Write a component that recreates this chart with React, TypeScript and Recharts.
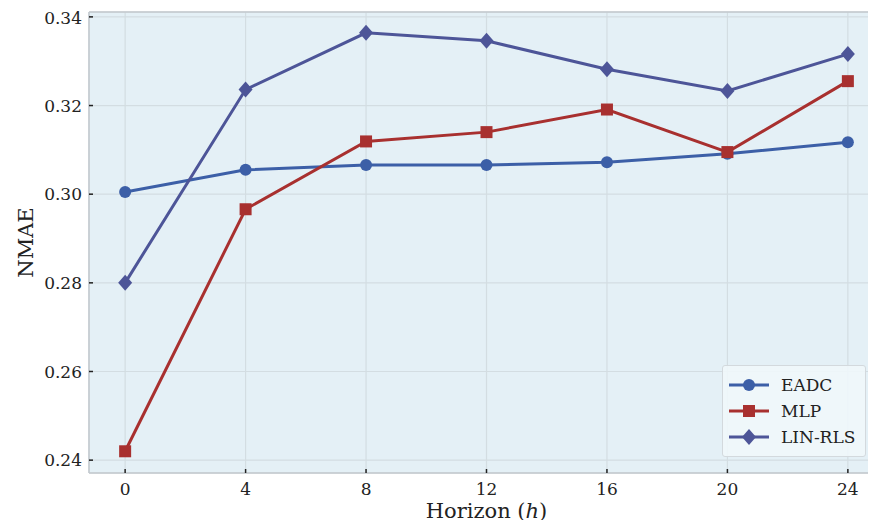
import React from "react";
import { CartesianGrid, Label, Legend, Line, LineChart, ReferenceLine, XAxis, YAxis } from "recharts";

const horizons = [0, 4, 8, 12, 16, 20, 24];
const eadc = [0.3005, 0.3055, 0.3066, 0.3066, 0.3072, 0.3091, 0.3117];
const mlp = [0.242, 0.2966, 0.3119, 0.314, 0.3191, 0.3095, 0.3255];
const linRls = [0.28, 0.3236, 0.3364, 0.3346, 0.3282, 0.3233, 0.3316];
const xTicks = [0, 4, 8, 12, 16, 20, 24];
const yTicks = [0.24, 0.26, 0.28, 0.3, 0.32, 0.34];

const data = horizons.map((h, i) => ({ h, EADC: eadc[i], MLP: mlp[i], "LIN-RLS": linRls[i] }));

const FONT = "'DejaVu Serif', serif";

const series = [
  { key: "EADC", color: "#3c5fa7", marker: "circle" },
  { key: "MLP", color: "#a8302f", marker: "square" },
  { key: "LIN-RLS", color: "#4d5598", marker: "diamond" },
];

function Marker({ cx, cy, kind, color }: { cx: number; cy: number; kind: string; color: string }) {
  if (kind === "circle") return <circle cx={cx} cy={cy} r={6} fill={color} />;
  if (kind === "square") return <rect x={cx - 6} y={cy - 6} width={12} height={12} fill={color} />;
  return <polygon points={`${cx},${cy - 8} ${cx + 7},${cy} ${cx},${cy + 8} ${cx - 7},${cy}`} fill={color} />;
}

// legend keeps the plotting order, not the alphabetical one
function LegendBox() {
  return (
    <div
      style={{
        background: "rgba(240,247,251,0.9)",
        border: "1px solid #d3d9dd",
        borderRadius: 3,
        padding: "6px 10px 6px 4px",
        fontFamily: FONT,
        fontSize: 17,
        color: "#222",
      }}
    >
      {series.map((s) => (
        <div key={s.key} style={{ display: "flex", alignItems: "center", height: 26 }}>
          <svg width={44} height={20} style={{ marginRight: 10 }}>
            <line x1={2} y1={10} x2={42} y2={10} stroke={s.color} strokeWidth={3} />
            <Marker cx={22} cy={10} kind={s.marker} color={s.color} />
          </svg>
          <span>{s.key}</span>
        </div>
      ))}
    </div>
  );
}

export default function App() {
  return (
    <div style={{ width: 868, height: 520, overflow: "hidden", marginBottom: -8 }}>
      <LineChart width={876} height={520} data={data} margin={{ top: 4, right: 0, bottom: 7, left: 0 }}>
        <CartesianGrid stroke="#d3dde2" strokeWidth={1.2} fill="#e4f0f6" fillOpacity={1} />
        <XAxis
          dataKey="h"
          type="number"
          domain={[-1.2, 25.2]}
          ticks={xTicks}
          height={48}
          tickSize={-4}
          tickMargin={14}
          tick={{ fontFamily: FONT, fontSize: 17, fill: "#222" }}
          axisLine={{ stroke: "#c3c9ce", strokeWidth: 1.5 }}
          tickLine={{ stroke: "#222", strokeWidth: 1.5 }}
        >
          <Label
            content={({ viewBox }: any) => (
              <text
                x={viewBox.x + viewBox.width / 2}
                y={viewBox.y + 45}
                textAnchor="middle"
                fontFamily={FONT}
                fontSize={21}
                fill="#222"
              >
                Horizon (<tspan fontStyle="italic">h</tspan>)
              </text>
            )}
          />
        </XAxis>
        <YAxis
          type="number"
          domain={[0.2371, 0.3411]}
          allowDataOverflow
          ticks={yTicks}
          width={81}
          tickSize={-4}
          tickMargin={11}
          tickFormatter={(v: number) => v.toFixed(2)}
          tick={{ fontFamily: FONT, fontSize: 17, fill: "#222" }}
          axisLine={{ stroke: "#c3c9ce", strokeWidth: 1.5 }}
          tickLine={{ stroke: "#222", strokeWidth: 1.5 }}
        >
          <Label
            value="NMAE"
            angle={-90}
            position="insideLeft"
            offset={18}
            style={{ fontFamily: FONT, fontSize: 21, fill: "#222", textAnchor: "middle" }}
          />
        </YAxis>
        <ReferenceLine y={0.3411} stroke="#c3c9ce" strokeWidth={1.5} ifOverflow="visible" />
        {series.map((s) => (
          <Line
            key={s.key}
            dataKey={s.key}
            name={s.key}
            stroke={s.color}
            strokeWidth={3}
            isAnimationActive={false}
            dot={(p: any) => <Marker key={`${s.key}-${p.index}`} cx={p.cx} cy={p.cy} kind={s.marker} color={s.color} />}
            activeDot={false}
          />
        ))}
        <Legend
          layout="vertical"
          align="center"
          verticalAlign="middle"
          content={LegendBox}
          wrapperStyle={{ left: 714, top: 357, width: "auto" }}
        />
      </LineChart>
    </div>
  );
}
